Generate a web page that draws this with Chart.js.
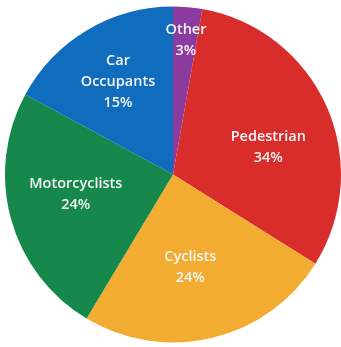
<!DOCTYPE html>
<html>
<head>
<meta charset="utf-8">
<script src="https://cdn.jsdelivr.net/npm/chart.js@4"></script>
<style>
html,body{margin:0;padding:0;background:#ffffff;}
#wrap{width:341px;height:347px;position:relative;}
</style>
</head>
<body>
<div id="wrap"><canvas id="c" width="341" height="347"></canvas></div>
<script>
// Categories and values (slice sizes, in percent)
const categories = ["Other", "Pedestrian", "Cyclists", "Motorcyclists", "Car Occupants"];
const values = [2.8, 31.1, 24.7, 24.3, 17.1];
const percentLabels = ["3%", "34%", "24%", "24%", "15%"];
const labelLines = [["Other"], ["Pedestrian"], ["Cyclists"], ["Motorcyclists"], ["Car", "Occupants"]];

const colors = ["#8b3a9e", "#d92d2c", "#f1ac31", "#16884b", "#106dbd"];

const sliceLabelPlugin = {
  id: "sliceLabels",
  afterDatasetsDraw(chart, args, opts) {
    const ctx = chart.ctx;
    const meta = chart.getDatasetMeta(0);
    ctx.save();
    ctx.fillStyle = "#f4f4f4";
    ctx.font = "600 14.5px 'Open Sans', 'Noto Sans', sans-serif";
    ctx.textAlign = "center";
    ctx.textBaseline = "middle";
    const lh = 21;
    meta.data.forEach((arc, i) => {
      const p = arc.getProps(["x", "y", "startAngle", "endAngle", "outerRadius"], true);
      const mid = (p.startAngle + p.endAngle) / 2 + opts.angleShift[i] * Math.PI / 180;
      const r = p.outerRadius * opts.radiusFrac[i];
      const cx = p.x + Math.cos(mid) * r;
      const cy = p.y + Math.sin(mid) * r;
      const lines = labelLines[i].concat([percentLabels[i]]);
      const y0 = cy - (lines.length - 1) * lh / 2;
      lines.forEach((t, k) => ctx.fillText(t, cx, y0 + k * lh));
    });
    ctx.restore();
  }
};

new Chart(document.getElementById("c"), {
  type: "pie",
  data: {
    labels: categories,
    datasets: [{
      data: values,
      backgroundColor: colors,
      borderWidth: 0
    }]
  },
  options: {
    responsive: false,
    animation: false,
    layout: { padding: { left: 5, right: 0, top: 5, bottom: 3 } },
    plugins: {
      legend: { display: false },
      tooltip: { enabled: false },
      sliceLabels: {
        radiusFrac: [0.80, 0.59, 0.565, 0.59, 0.64],
        angleShift: [0.5, 8, 3, 4, 0]
      }
    }
  },
  plugins: [sliceLabelPlugin]
});
</script>
</body>
</html>
